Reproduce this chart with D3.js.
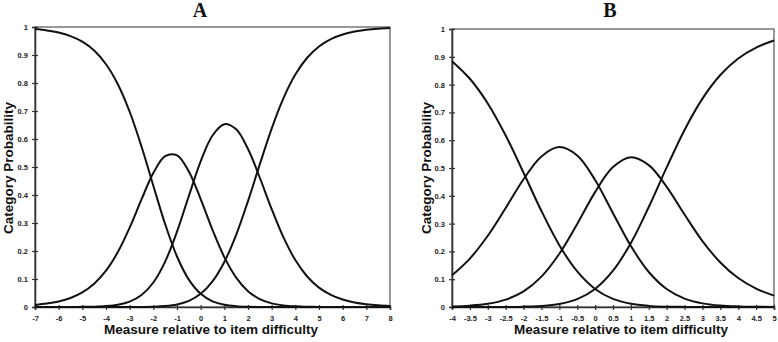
<!DOCTYPE html>
<html>
<head>
<meta charset="utf-8">
<script src="https://cdn.jsdelivr.net/npm/d3@7"></script>
<style>
  html, body { margin: 0; padding: 0; background: #fff; }
  svg { display: block; }
  .tick-lbl { font-family: Arial, "Liberation Sans", sans-serif; font-weight: 700; font-size: 7.5px; fill: #222; }
  .ax-title { font-family: Arial, "Liberation Sans", sans-serif; font-weight: 700; font-size: 13.5px; fill: #111; }
  .panel-title { font-family: "Times New Roman", "Liberation Serif", serif; font-weight: 700; font-size: 20px; fill: #111; }
</style>
</head>
<body>
<div id="chart"></div>
<script>
// Category probability curves, two items (A and B)

// panel A : measure from -7 to 8
const aX = [-7, -6.5, -6, -5.5, -5, -4.5, -4, -3.5, -3, -2.5, -2, -1.5, -1, -0.5, 0,
  0.5, 1, 1.5, 2, 2.5, 3, 3.5, 4, 4.5, 5, 5.5, 6, 6.5, 7, 7.5, 8];
const aCat0 = [0.9926, 0.9878, 0.9801, 0.9675, 0.9474, 0.9157, 0.8671, 0.7957, 0.6973, 0.5730, 0.4330,
  0.2957, 0.1803, 0.0977, 0.0472, 0.0204, 0.0080, 0.0029, 0.0009, 0.0003, 0.0001, 0, 0, 0, 0, 0, 0, 0, 0, 0, 0];
const aCat1 = [0.0074, 0.0121, 0.0198, 0.0323, 0.0521, 0.0831, 0.1297, 0.1962, 0.2835, 0.3841, 0.4785,
  0.5388, 0.5417, 0.4841, 0.3854, 0.2753, 0.1780, 0.1049, 0.0566, 0.0281, 0.0129, 0.0056, 0.0023, 0.0009,
  0.0003, 0.0001, 0, 0, 0, 0, 0];
const aCat2 = [0, 0, 0.0001, 0.0002, 0.0005, 0.0012, 0.0032, 0.0080, 0.0191, 0.0426, 0.0874,
  0.1623, 0.2690, 0.3963, 0.5202, 0.6126, 0.6530, 0.6344, 0.5643, 0.4616, 0.3497, 0.2484, 0.1676, 0.1090,
  0.0691, 0.0431, 0.0266, 0.0163, 0.0100, 0.0061, 0.0037];
const aCat3 = [0, 0, 0, 0, 0, 0, 0, 0, 0.0001, 0.0003, 0.0011,
  0.0033, 0.0090, 0.0218, 0.0472, 0.0916, 0.1610, 0.2579, 0.3782, 0.5101, 0.6373, 0.7461, 0.8301, 0.8901,
  0.9305, 0.9568, 0.9734, 0.9837, 0.9900, 0.9939, 0.9963];
const aTicks = [-7, -6, -5, -4, -3, -2, -1, 0, 1, 2, 3, 4, 5, 6, 7, 8];

// panel B : measure from -4 to 5
const bX = [-4, -3.5, -3, -2.5, -2, -1.5, -1, -0.5, 0, 0.5, 1, 1.5, 2, 2.5, 3, 3.5, 4, 4.5, 5];
const bCat0 = [0.8843, 0.8210, 0.7322, 0.6171, 0.4830, 0.3453, 0.2224, 0.1278, 0.0650, 0.0291,
  0.0115, 0.0040, 0.0012, 0.0004, 0.0001, 0, 0, 0, 0];
const bCat1 = [0.1138, 0.1742, 0.2562, 0.3561, 0.4595, 0.5415, 0.5751, 0.5447, 0.4568, 0.3373,
  0.2191, 0.1259, 0.0646, 0.0302, 0.0131, 0.0053, 0.0021, 0.0008, 0.0003];
const bCat2 = [0.0019, 0.0048, 0.0115, 0.0264, 0.0563, 0.1093, 0.1914, 0.2990, 0.4133, 0.5032,
  0.5390, 0.5104, 0.4321, 0.3325, 0.2373, 0.1602, 0.1041, 0.0659, 0.0411];
const bCat3 = [0, 0, 0.0001, 0.0003, 0.0012, 0.0038, 0.0111, 0.0285, 0.0650, 0.1304,
  0.2304, 0.3597, 0.5020, 0.6370, 0.7495, 0.8344, 0.8938, 0.9333, 0.9586];
const bTicks = [-4, -3.5, -3, -2.5, -2, -1.5, -1, -0.5, 0, 0.5, 1, 1.5, 2, 2.5, 3, 3.5, 4, 4.5, 5];

const yTicks = [0, 0.1, 0.2, 0.3, 0.4, 0.5, 0.6, 0.7, 0.8, 0.9, 1];

const width = 778, height = 342;
const svg = d3.select('#chart').append('svg')
  .attr('width', width).attr('height', height);

function drawPanel(p) {
  const x = d3.scaleLinear().domain(p.domain).range([p.left, p.right]);
  const y = d3.scaleLinear().domain([0, 1]).range([p.bottom, p.top]);
  const g = svg.append('g');

  // frame (top + right)
  g.append('rect')
    .attr('x', p.left).attr('y', p.top)
    .attr('width', p.right - p.left).attr('height', p.bottom - p.top)
    .attr('fill', 'none').attr('stroke', '#555').attr('stroke-width', 1.2);

  // axes, ticks crossing the line
  const yAx = g.append('g').attr('transform', `translate(${p.left},0)`)
    .call(d3.axisLeft(y).tickValues(yTicks).tickSize(3).tickPadding(4)
      .tickFormat(d => d === 0 || d === 1 ? d3.format('d')(d) : d3.format('.1f')(d)));
  yAx.select('.domain').attr('stroke', '#333').attr('stroke-width', 1.6);
  yAx.selectAll('.tick line').attr('x2', 3).attr('x1', -3).attr('stroke', '#333').attr('stroke-width', 1.2);
  yAx.selectAll('.tick text').attr('class', 'tick-lbl').attr('x', -7);

  const xAx = g.append('g').attr('transform', `translate(0,${p.bottom})`)
    .call(d3.axisBottom(x).tickValues(p.ticks).tickSize(3).tickPadding(4).tickFormat(d => String(d)));
  xAx.select('.domain').attr('stroke', '#333').attr('stroke-width', 1.6);
  xAx.selectAll('.tick line').attr('y1', -2).attr('y2', 3).attr('stroke', '#333').attr('stroke-width', 1.2);
  xAx.selectAll('.tick text').attr('class', 'tick-lbl').attr('y', 9);

  // curves
  const line = d3.line()
    .x((d, i) => x(p.xs[i])).y(d => y(d))
    .curve(d3.curveCatmullRom.alpha(0.5));
  p.series.forEach(s => {
    g.append('path').datum(s)
      .attr('fill', 'none').attr('stroke', '#111').attr('stroke-width', 2)
      .attr('d', line);
  });

  // titles
  g.append('text').attr('class', 'panel-title')
    .attr('x', p.titleX).attr('y', 17).attr('text-anchor', 'middle').text(p.title);
  g.append('text').attr('class', 'ax-title')
    .attr('x', p.xTitleX).attr('y', 334).attr('text-anchor', 'middle')
    .text('Measure relative to item difficulty');
  g.append('text').attr('class', 'ax-title')
    .attr('transform', `translate(${p.yTitleX},${168}) rotate(-90)`)
    .attr('text-anchor', 'middle')
    .text('Category  Probability');
}

drawPanel({
  title: 'A', titleX: 200, xTitleX: 211, yTitleX: 12.5,
  domain: [-7, 8], ticks: aTicks,
  left: 35, right: 390, top: 27, bottom: 307,
  xs: aX, series: [aCat0, aCat1, aCat2, aCat3]
});

drawPanel({
  title: 'B', titleX: 610, xTitleX: 621, yTitleX: 431,
  domain: [-4, 5], ticks: bTicks,
  left: 452, right: 774, top: 29, bottom: 307,
  xs: bX, series: [bCat0, bCat1, bCat2, bCat3]
});
</script>
</body>
</html>
